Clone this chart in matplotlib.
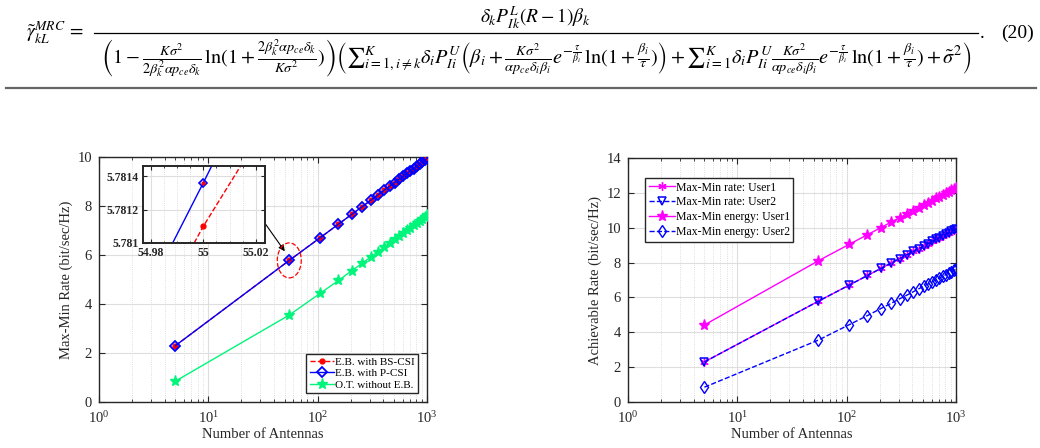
import numpy as np
import matplotlib
matplotlib.use('Agg')
import matplotlib.pyplot as plt
import matplotlib.transforms as mtransforms
from matplotlib.patches import Ellipse
from matplotlib.lines import Line2D
from matplotlib.ticker import FixedLocator, NullFormatter

plt.rcParams['font.family'] = ['Liberation Serif', 'DejaVu Serif']
plt.rcParams['mathtext.fontset'] = 'stix'

# number of antennas
antennas = [5, 55, 105, 155, 205, 255, 305, 355, 405, 455, 505,
            555, 605, 655, 705, 755, 805, 855, 905, 955, 1005]

# left plot: max-min rate
rate_p_csi = [2.30, 5.78, 6.70, 7.26, 7.66, 7.97, 8.23, 8.45, 8.64, 8.80, 8.95,
              9.09, 9.21, 9.33, 9.43, 9.53, 9.63, 9.71, 9.79, 9.87, 9.95]
rate_bs_csi = [2.30, 5.78, 6.70, 7.26, 7.66, 7.97, 8.23, 8.45, 8.64, 8.80, 8.95,
               9.09, 9.21, 9.33, 9.43, 9.53, 9.63, 9.71, 9.79, 9.87, 9.95]
rate_ot = [0.85, 3.55, 4.43, 4.96, 5.36, 5.66, 5.92, 6.13, 6.32, 6.49, 6.64,
           6.77, 6.89, 7.01, 7.11, 7.21, 7.30, 7.39, 7.47, 7.55, 7.62]

# zoomed view around N = 55
inset_pcsi_x = [54.9883, 55.0, 55.0035]
inset_pcsi_y = [5.78100, 5.78136, 5.78147]
inset_bscsi_x = [54.9965, 55.0, 55.0150]
inset_bscsi_y = [5.78100, 5.78110, 5.78148]

# right plot: per user rates
rate_user1 = rate_p_csi
rate_user2 = rate_p_csi
energy_user1 = [4.42, 8.10, 9.04, 9.60, 10.00, 10.32, 10.58, 10.79, 10.98, 11.15, 11.30,
                11.44, 11.56, 11.68, 11.78, 11.88, 11.98, 12.06, 12.14, 12.22, 12.30]
energy_user2 = rate_ot

GREEN = '#00F57A'
EDGE = '#262626'


def style_axes(ax, ymax):
    ax.set_xscale('log')
    ax.set_xlim(1, 1000)
    ax.set_ylim(0, ymax)
    ax.set_yticks(range(0, ymax + 1, 2))
    ax.tick_params(which='both', direction='in', top=True, right=True,
                   labelsize=10.5, colors=EDGE)
    ax.tick_params(axis='x', pad=6)
    ax.tick_params(axis='y', pad=5)
    ax.tick_params(which='major', length=4)
    ax.tick_params(which='minor', length=2)
    ax.grid(True, which='major', color='#dedede', lw=0.8)
    ax.grid(True, which='minor', axis='x', color='#d4d4d4', lw=0.6, ls=':')
    ax.set_axisbelow(True)
    for s in ax.spines.values():
        s.set_color(EDGE)
        s.set_linewidth(1.0)
    ax.set_xlabel('Number of Antennas', fontsize=10.5, color=EDGE, labelpad=1)


fig = plt.figure(figsize=(10.4, 4.48), dpi=100)

# ---------------- equation ----------------
W, H = 1040.0, 448.0
eq_size = 14
fig.text(26 / W, 1 - 33 / H, r'$\tilde{\gamma}_{kL}^{MRC}\,=$', fontsize=eq_size,
         ha='left', va='center')
fig.text(536 / W, 1 - 18 / H, r'$\delta_k P_{Ik}^{L}(R-1)\beta_k$', fontsize=eq_size,
         ha='center', va='center')
fig.add_artist(Line2D([94 / W, 978 / W], [1 - 33 / H, 1 - 33 / H], color='black', lw=0.9))
denom = (r'$\left(1-\frac{K\sigma^2}{2\beta_k^2\alpha p_{ce}\delta_k}\,\ln(1+\frac{2\beta_k^2\alpha p_{ce}\delta_k}{K\sigma^2})\right)'
         r'\left({\sum}_{i=1,i\neq k}^{K}\delta_i P_{Ii}^{U}\left(\beta_i+\frac{K\sigma^2}{\alpha p_{ce}\delta_i\beta_i}'
         r'e^{-\frac{\tau}{\beta_i}}\,\ln(1+\frac{\beta_i}{\tau})\right)+{\sum}_{i=1}^{K}\delta_i P_{Ii}^{U}'
         r'\frac{K\sigma^2}{\alpha p_{ce}\delta_i\beta_i}e^{-\frac{\tau}{\beta_i}}\,\ln(1+\frac{\beta_i}{\tau})+\tilde{\sigma}^2\right)$')
fig.text(536 / W, 1 - 58 / H, denom, fontsize=14.6, ha='center', va='center')
fig.text(980 / W, 1 - 33 / H, '.', fontsize=eq_size, ha='left', va='center')
fig.text(1001 / W, 1 - 33 / H, '(20)', fontsize=eq_size, ha='left', va='center')
fig.add_artist(Line2D([6 / W, 1036 / W], [1 - 88 / H, 1 - 88 / H], color='#666666', lw=1.6))

# ---------------- left plot ----------------
ax1 = fig.add_axes([99 / W, 46 / H, 328 / W, 245 / H])
style_axes(ax1, 10)
ax1.plot(antennas, rate_bs_csi, '--', color='red', marker='o', ms=3.5,
         mfc='red', mec='red', lw=1.0, label='E.B. with BS-CSI', zorder=3)
ax1.plot(antennas, rate_p_csi, '-', color='blue', marker='D', ms=5, mfc='none',
         mew=1.3, lw=1.0, label='E.B. with P-CSI', zorder=4)
ax1.plot(antennas, rate_ot, '-', color=GREEN, marker='*', ms=8, lw=1.0,
         label='O.T. without E.B.', zorder=3)
ax1.set_ylabel('Max-Min Rate (bit/sec/Hz)', fontsize=10.5, color=EDGE, labelpad=3)
leg1 = ax1.legend(loc='lower right', fontsize=8, handlelength=2.2, handletextpad=0.1,
                  labelspacing=0.15, borderpad=0.3, fancybox=False, framealpha=1,
                  edgecolor=EDGE, borderaxespad=0.8)
leg1.get_frame().set_linewidth(1.0)

# dashed ellipse around N = 55 and arrow from the inset
ell_tr = fig.dpi_scale_trans + mtransforms.ScaledTranslation(55, 5.78, ax1.transData)
ax1.add_patch(Ellipse((0, 0), 0.24, 0.35, transform=ell_tr, fill=False,
                      ec='red', ls='--', lw=0.9, zorder=5))
ax1.annotate('', xy=(50, 6.15), xytext=(33.5, 7.25),
             arrowprops=dict(arrowstyle='-|>', color='black', lw=0.8,
                             mutation_scale=9, shrinkA=0, shrinkB=0))

# inset
axi = fig.add_axes([143 / W, 205 / H, 122 / W, 77 / H])
axi.plot(inset_bscsi_x, inset_bscsi_y, '--', color='red', lw=1.0)
axi.plot([inset_bscsi_x[1]], [inset_bscsi_y[1]], 'o', color='red', ms=3.5)
axi.plot(inset_pcsi_x, inset_pcsi_y, '-', color='blue', lw=1.0)
axi.plot([inset_pcsi_x[1]], [inset_pcsi_y[1]], 'D', color='blue', ms=4, mfc='none', mew=1.2)
axi.plot([inset_pcsi_x[1]], [inset_pcsi_y[1]], 'o', color='red', ms=2)
axi.set_xlim(54.977, 55.0235)
axi.set_ylim(5.781, 5.78146)
axi.set_xticks([54.98, 55.0, 55.02])
axi.set_xticklabels(['54.98', '55', '55.02'])
axi.set_yticks([5.781, 5.7812, 5.7814])
axi.set_yticklabels(['5.781', '5.7812', '5.7814'])
axi.xaxis.set_minor_locator(FixedLocator(np.arange(54.975, 55.025, 0.005)))
axi.xaxis.set_minor_formatter(NullFormatter())
axi.tick_params(which='both', direction='in', top=True, right=True,
                labelsize=8.5, colors=EDGE, pad=3)
axi.tick_params(which='major', length=3)
axi.tick_params(which='minor', length=1.5)
for lab in axi.get_xticklabels() + axi.get_yticklabels():
    lab.set_fontweight('bold')
axi.grid(True, which='major', color='#dedede', lw=0.8)
axi.grid(True, which='minor', axis='x', color='#d4d4d4', lw=0.6, ls=':')
axi.set_axisbelow(True)
for s in axi.spines.values():
    s.set_color(EDGE)
    s.set_linewidth(1.4)

# ---------------- right plot ----------------
ax2 = fig.add_axes([628 / W, 46 / H, 328 / W, 244 / H])
style_axes(ax2, 14)
ax2.plot(antennas, rate_user1, '-', color='magenta', marker=(6, 2, 0), ms=6,
         lw=1.0, label='Max-Min rate: User1', zorder=3)
ax2.plot(antennas, rate_user2, '--', color='blue', marker='v', ms=5.5, mfc='none',
         mew=1.1, lw=1.0, label='Max-Min rate: User2', zorder=4)
ax2.plot(antennas, energy_user1, '-', color='magenta', marker='*', ms=8,
         lw=1.0, label='Max-Min energy: User1', zorder=3)
ax2.plot(antennas, energy_user2, '--', color='blue', marker='d', ms=6, mfc='none',
         mew=1.0, lw=1.0, label='Max-Min energy: User2', zorder=3)
ax2.set_ylabel('Achievable Rate (bit/sec/Hz)', fontsize=10.5, color=EDGE, labelpad=3)
leg2 = ax2.legend(loc='upper left', bbox_to_anchor=(17 / 328, 1 - 20 / 244),
                  fontsize=8.5, handlelength=2.2, handletextpad=0.1,
                  labelspacing=0.25, borderpad=0.3, fancybox=False, framealpha=1,
                  edgecolor=EDGE, borderaxespad=0)
leg2.get_frame().set_linewidth(1.0)

fig.savefig('out.png', dpi=100)
